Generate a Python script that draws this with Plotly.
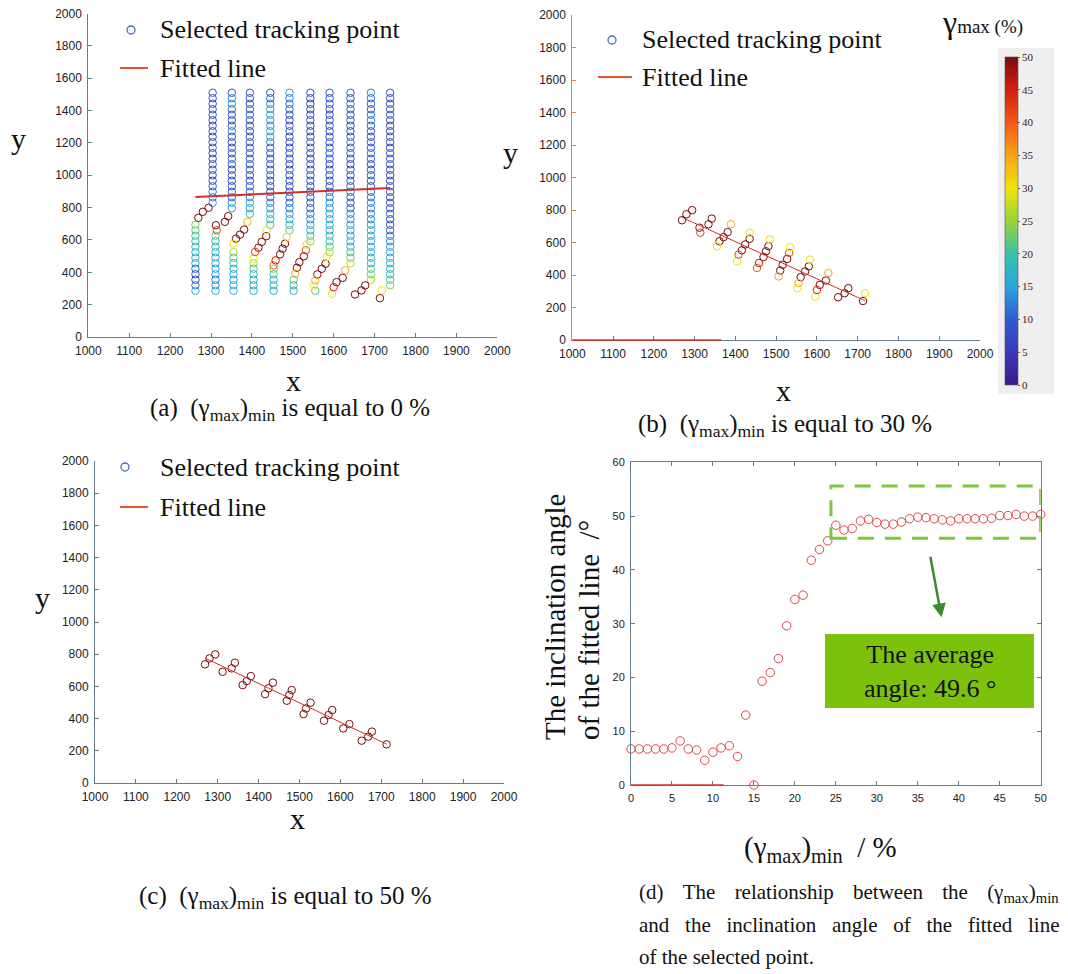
import numpy as np
import plotly.graph_objects as go

W, H = 1068, 974
SERIF = "Liberation Serif"
SANS = "Liberation Sans"

# ---------------------------------------------------------------- data
# rows of the tracking grid (y, top to bottom)
ROW_Y = [1510, 1476, 1442, 1408, 1374, 1340, 1306, 1272, 1238, 1204, 1170, 1136,
         1102, 1068, 1034, 1000, 966, 932, 898, 864, 830, 796, 762, 728, 694, 660,
         626, 592, 558, 524, 490, 456, 422, 388, 354, 320, 286]

# x of each grid column above the shear band and below it
COL_X_UPPER = [1304, 1351, 1395, 1445, 1492, 1543, 1590, 1641, 1691, 1738]
COL_X_LOWER = [1262, 1311, 1355, 1404, 1453, 1502, 1555]

# gamma_max (%) of the points above the band, per column, from the top row down
UPPER_GAMMA = [
    [10, 9, 8, 9, 10, 8, 7, 9, 8, 9, 10, 8, 7, 9, 10, 9, 8, 10, 12, 13, 15],
    [9, 12, 14, 11, 9, 8, 10, 13, 9, 8, 7, 9, 11, 9, 8, 10, 9, 8, 9, 11, 13, 15],
    [10, 9, 8, 9, 10, 9, 8, 7, 9, 10, 9, 8, 9, 10, 9, 8, 9, 10, 11, 13, 15, 16, 18],
    [9, 10, 12, 14, 15, 14, 13, 15, 14, 12, 10, 9, 8, 9, 10, 9, 8, 9, 8, 10, 12, 14,
     16, 18, 20],
    [14, 13, 12, 11, 9, 8, 9, 10, 9, 8, 9, 10, 9, 8, 9, 10, 9, 8, 9, 10, 11, 12, 14,
     16, 18, 22],
    [9, 8, 7, 8, 9, 10, 8, 7, 8, 9, 10, 8, 7, 9, 8, 9, 10, 9, 8, 9, 10, 11, 12, 13,
     15, 17, 20, 24],
    [10, 9, 11, 9, 8, 10, 9, 8, 9, 10, 9, 11, 9, 8, 10, 9, 8, 9, 11, 12, 13, 14, 15,
     16, 15, 16, 18, 20, 22, 26],
    [11, 10, 12, 10, 9, 11, 9, 8, 10, 12, 11, 10, 9, 8, 9, 10, 9, 11, 12, 10, 9, 11,
     13, 14, 15, 16, 15, 16, 17, 19, 22, 27],
    [13, 12, 10, 9, 11, 12, 10, 9, 8, 10, 9, 11, 9, 8, 9, 10, 9, 8, 10, 11, 12, 13,
     12, 13, 14, 15, 16, 15, 16, 17, 16, 18, 20, 23, 26],
    [10, 9, 8, 9, 10, 8, 7, 8, 9, 8, 7, 8, 9, 10, 8, 7, 8, 9, 8, 7, 8, 9, 10, 8, 9,
     10, 11, 13, 15, 16, 15, 16, 17, 18, 20, 24],
]

# gamma_max (%) of the points below the band, per column, ending at the bottom row
LOWER_GAMMA = [
    [24, 22, 20, 19, 18, 17, 16, 15, 11, 8, 7, 12, 16],
    [22, 20, 18, 17, 16, 15, 16, 15, 12, 14, 16],
    [26, 22, 19, 17, 16, 15, 16, 17],
    [25, 21, 18, 17, 16, 17],
    [24, 20, 18, 17, 16],
    [22, 19, 17],
    [21],
]

# points inside the shear band
BAND_X = [1269, 1280, 1294, 1312, 1334, 1342, 1361, 1371, 1381, 1416, 1424, 1435,
          1469, 1475, 1481, 1510, 1516, 1527, 1560, 1571, 1580, 1607, 1622, 1652,
          1668, 1677, 1713,
          1314, 1355, 1389, 1404, 1408, 1436, 1453, 1458, 1485, 1506, 1532, 1534,
          1552, 1555, 1583, 1596, 1600, 1628, 1718]
BAND_Y = [737, 774, 799, 691, 712, 747, 608, 633, 664, 552, 588, 623,
          511, 546, 577, 428, 463, 499, 387, 422, 453, 339, 366, 263,
          288, 319, 240,
          660, 577, 712, 484, 526, 660, 443, 474, 619, 391, 536, 571,
          319, 350, 495, 267, 308, 412, 288]
BAND_GAMMA = [56, 60, 53, 55, 58, 52, 54, 61, 55, 57, 62, 53,
              56, 60, 52, 54, 59, 55, 58, 63, 53, 55, 57, 54,
              60, 52, 56,
              42, 30, 34, 30, 42, 30, 40, 46, 31, 35, 42, 30,
              30, 34, 30, 30, 45, 35, 30]

# (gamma_max)_min thresholds shown in panels (a), (b), (c)
THRESHOLDS = [0, 30, 50]
LINE_SIGN = [1, -1, -1]

# panel (d): inclination angle of the fitted line vs (gamma_max)_min
GAMMA_MIN = list(range(0, 51))
ANGLE = [6.7, 6.7, 6.7, 6.7, 6.7, 6.9, 8.2, 6.7, 6.5, 4.6,
         6.1, 6.9, 7.3, 5.3, 13.0, 0.0, 19.3, 20.9, 23.5, 29.6,
         34.5, 35.3, 41.8, 43.8, 45.4, 48.3, 47.4, 47.7, 49.1, 49.4,
         48.8, 48.5, 48.5, 48.9, 49.5, 49.8, 49.7, 49.5, 49.3, 49.1,
         49.5, 49.5, 49.5, 49.5, 49.6, 50.1, 50.1, 50.3, 50.0, 50.0, 50.3]
AVERAGE_ANGLE = 49.6

COLORSCALE = [
    [0.0, "#3c1a8a"], [0.1, "#3b38b8"], [0.2, "#2e5ccf"], [0.3, "#2aa4e0"],
    [0.4, "#38c4a4"], [0.5, "#98d43a"], [0.6, "#f2e40a"], [0.7, "#f9a318"],
    [0.8, "#f15a14"], [0.9, "#d41e14"], [1.0, "#780c0c"],
]

# ---------------------------------------------------------------- helpers
def fx(px):
    return px / W


def fy(py):
    return 1 - py / H


AXC = "#647a8e"

# assemble all tracking points
px_all, py_all, g_all = [], [], []
for i, glist in enumerate(UPPER_GAMMA):
    for y, g in zip(ROW_Y, glist):
        px_all.append(COL_X_UPPER[i]); py_all.append(y); g_all.append(g)
for i, glist in enumerate(LOWER_GAMMA):
    for y, g in zip(ROW_Y[len(ROW_Y) - len(glist):], glist):
        px_all.append(COL_X_LOWER[i]); py_all.append(y); g_all.append(g)
px_all += BAND_X
py_all += BAND_Y
g_all += BAND_GAMMA
px_all = np.array(px_all, float)
py_all = np.array(py_all, float)
g_all = np.array(g_all, float)

fig = go.Figure()

panels = [
    dict(xa="x", ya="y", xdom=(88.3, 497.3), ydom=(337, 13.5), lw=2.0),
    dict(xa="x2", ya="y2", xdom=(572.3, 980), ydom=(340, 15), lw=1.0),
    dict(xa="x3", ya="y3", xdom=(95, 504), ydom=(783, 461), lw=1.0),
]

for k, (pn, t) in enumerate(zip(panels, THRESHOLDS)):
    m = g_all >= t
    xs, ys, gs = px_all[m], py_all[m], g_all[m]
    fig.add_trace(go.Scatter(
        x=xs, y=ys, mode="markers", xaxis=pn["xa"], yaxis=pn["ya"],
        marker=dict(symbol="circle-open", size=7.5, color=gs, coloraxis="coloraxis",
                    line=dict(width=1)),
        showlegend=False, hoverinfo="skip"))
    ang = ANGLE[GAMMA_MIN.index(t)]
    slope = LINE_SIGN[k] * np.tan(np.radians(ang))
    cx, cy = xs.mean(), ys.mean()
    lx = np.array([xs.min(), xs.max()])
    ly = cy + slope * (lx - cx)
    fig.add_trace(go.Scatter(
        x=lx, y=ly, mode="lines", xaxis=pn["xa"], yaxis=pn["ya"],
        line=dict(color="#d2302a", width=pn["lw"]), showlegend=False, hoverinfo="skip"))

fig.add_trace(go.Scatter(
    x=GAMMA_MIN, y=ANGLE, mode="markers", xaxis="x4", yaxis="y4",
    marker=dict(symbol="circle-open", size=8.5, color="#e04646", line=dict(width=1)),
    cliponaxis=False, showlegend=False, hoverinfo="skip"))


def axis(dom, rng, tickvals, anchor, mirror=False, linecolor=AXC, size=12):
    return dict(domain=dom, range=rng, tickvals=tickvals, anchor=anchor,
                showline=True, linecolor=linecolor, linewidth=1, mirror=mirror,
                ticks="inside", ticklen=4, tickcolor=linecolor,
                tickfont=dict(family=SANS, size=size, color="#222"),
                ticklabelstandoff=3, automargin=False,
                showgrid=False, zeroline=False)


xt = list(range(1000, 2001, 100))
yt = list(range(0, 2001, 200))
names = ["", "2", "3"]
for pn, nm in zip(panels, names):
    xd = [fx(pn["xdom"][0]), fx(pn["xdom"][1])]
    yd = [fy(pn["ydom"][0]), fy(pn["ydom"][1])]
    ylc = "#d9825b" if nm == "2" else AXC
    fig.update_layout(**{
        "xaxis" + nm: axis(xd, [1000, 2000], xt, "y" + nm),
        "yaxis" + nm: axis(yd, [0, 2000], yt, "x" + nm, linecolor=ylc),
    })

fig.update_layout(
    xaxis4=axis([fx(631), fx(1040.7)], [0, 50], list(range(0, 51, 5)), "y4",
                mirror="ticks", size=11),
    yaxis4=axis([fy(785), fy(462.3)], [0, 60], list(range(0, 61, 10)), "x4",
                mirror="ticks", size=11),
)

fig.update_layout(
    width=W, height=H, margin=dict(l=0, r=0, t=0, b=0, autoexpand=False),
    paper_bgcolor="white", plot_bgcolor="white",
    coloraxis=dict(
        colorscale=COLORSCALE, cmin=0, cmax=50,
        colorbar=dict(
            x=fx(1005), xanchor="left", xref="paper",
            y=fy(385), yanchor="bottom", yref="paper",
            lenmode="pixels", len=328, thickness=13, xpad=0, ypad=0,
            outlinewidth=0.6, outlinecolor="#555",
            tickvals=list(range(0, 51, 5)), ticks="outside", ticklen=2,
            tickcolor="#a05040",
            tickfont=dict(family=SERIF, size=11, color="#3a2020"),
        ),
    ),
)

shapes = []
annots = []

# colour bar backdrop
shapes.append(dict(type="rect", xref="paper", yref="paper", x0=fx(998), x1=fx(1054),
                   y0=fy(394), y1=fy(48), fillcolor="#efefef", line=dict(width=0),
                   layer="below"))
annots.append(dict(xref="paper", yref="paper", x=fx(982), y=fy(22), showarrow=False,
                   text="<span style='font-size:32px'>γ</span>"
                        "<span style='font-size:19px'>max (%)</span>",
                   font=dict(family=SERIF, color="#111"), xanchor="center",
                   yanchor="middle"))

# legends
legends = [((131, 30), (120, 148, 68), 158), ((612, 40), (598, 632, 77), 640),
           ((125, 467), (120, 148, 507), 158)]
for (cx, cy), (l0, l1, ly), tx in legends:
    shapes.append(dict(type="circle", xref="paper", yref="paper",
                       xsizemode="pixel", ysizemode="pixel",
                       xanchor=fx(cx), yanchor=fy(cy), x0=-4, x1=4, y0=-4, y1=4,
                       line=dict(color="#4a6cc0", width=1.3)))
    shapes.append(dict(type="line", xref="paper", yref="paper", x0=fx(l0), x1=fx(l1),
                       y0=fy(ly), y1=fy(ly), line=dict(color="#e8552d", width=2)))
    annots.append(dict(xref="paper", yref="paper", x=fx(tx), y=fy(cy), showarrow=False,
                       text="Selected tracking point", xanchor="left", yanchor="middle",
                       font=dict(family=SERIF, size=26, color="#111")))
    annots.append(dict(xref="paper", yref="paper", x=fx(tx), y=fy(ly), showarrow=False,
                       text="Fitted line", xanchor="left", yanchor="middle",
                       font=dict(family=SERIF, size=26, color="#111")))

# axis titles of panels a-c
for tx, (x, y) in [("x", (293, 380)), ("y", (18, 138)), ("x", (783, 390)),
                   ("y", (510, 153)), ("x", (297, 818)), ("y", (42, 597))]:
    annots.append(dict(xref="paper", yref="paper", x=fx(x), y=fy(y), showarrow=False,
                       text=tx, xanchor="center", yanchor="middle",
                       font=dict(family=SERIF, size=30, color="#111")))

# captions
GM = "(γ<sub>max</sub>)<sub>min</sub>"
for lab, t, (x, y) in zip(["(a)", "(b)", "(c)"], THRESHOLDS,
                          [(290, 410), (785, 425), (285, 897)]):
    annots.append(dict(xref="paper", yref="paper", x=fx(x), y=fy(y), showarrow=False,
                       text=f"{lab}\u00a0\u00a0{GM} is equal to {t} %", xanchor="center",
                       yanchor="middle", font=dict(family=SERIF, size=25, color="#111")))

G1 = "\u00a0\u00a0\u00a0\u2006"
G2 = "\u00a0\u00a0\u00a0"
cap_d = [f"(d){G1}The{G1}relationship{G1}between{G1}the{G1}{GM}",
         f"and{G2}the{G2}inclination{G2}angle{G2}of{G2}the{G2}fitted{G2}line",
         "of the selected point."]
for line, y in zip(cap_d, [893, 925, 957]):
    annots.append(dict(xref="paper", yref="paper", x=fx(637), y=fy(y), showarrow=False,
                       text=line, xanchor="left", yanchor="middle",
                       font=dict(family=SERIF, size=21, color="#111")))

# panel d axis titles
annots.append(dict(xref="paper", yref="paper", x=fx(820), y=fy(849), showarrow=False,
                   text=f"{GM}  / %", xanchor="center", yanchor="middle",
                   font=dict(family=SERIF, size=29, color="#111")))
for line, x in [("The inclination angle", 555), ("of the fitted line  /°", 589)]:
    annots.append(dict(xref="paper", yref="paper", x=fx(x), y=fy(742), showarrow=False,
                       text=line, textangle=-90, xanchor="center", yanchor="bottom",
                       font=dict(family=SERIF, size=29, color="#111")))

# panel d highlight: dashed frame, arrow and note
shapes.append(dict(type="rect", xref="x4", yref="y4", x0=24.4, x1=50, y0=45.9, y1=55.6,
                   line=dict(color="#7cc83a", width=3, dash="16px,11px")))
annots.append(dict(xref="x4", yref="y4", axref="x4", ayref="y4", x=37.9, y=31.2,
                   ax=36.5, ay=42.7, text="", showarrow=True, arrowhead=2,
                   arrowsize=1.1, arrowwidth=2.5, arrowcolor="#3b8a2e"))
shapes.append(dict(type="rect", xref="paper", yref="paper", x0=fx(825), x1=fx(1034),
                   y0=fy(708), y1=fy(634), fillcolor="#7cc20c", line=dict(width=0)))
annots.append(dict(xref="paper", yref="paper", x=fx(929.5), y=fy(671), showarrow=False,
                   text=f"The average<br>angle: {AVERAGE_ANGLE} °", align="center",
                   xanchor="center", yanchor="middle",
                   font=dict(family=SERIF, size=26, color="#111")))

# reddish stretches along two bottom axes (paper y so they are not clipped)
shapes.append(dict(type="line", xref="x2", yref="paper", x0=1000, x1=1365,
                   y0=fy(340), y1=fy(340), layer="above",
                   line=dict(color="#e0301e", width=1.6)))
shapes.append(dict(type="line", xref="x4", yref="paper", x0=0, x1=11.3,
                   y0=fy(785), y1=fy(785), layer="above",
                   line=dict(color="#e0301e", width=1.6)))

fig.update_layout(shapes=shapes, annotations=annots)

fig.write_html("out.html")
